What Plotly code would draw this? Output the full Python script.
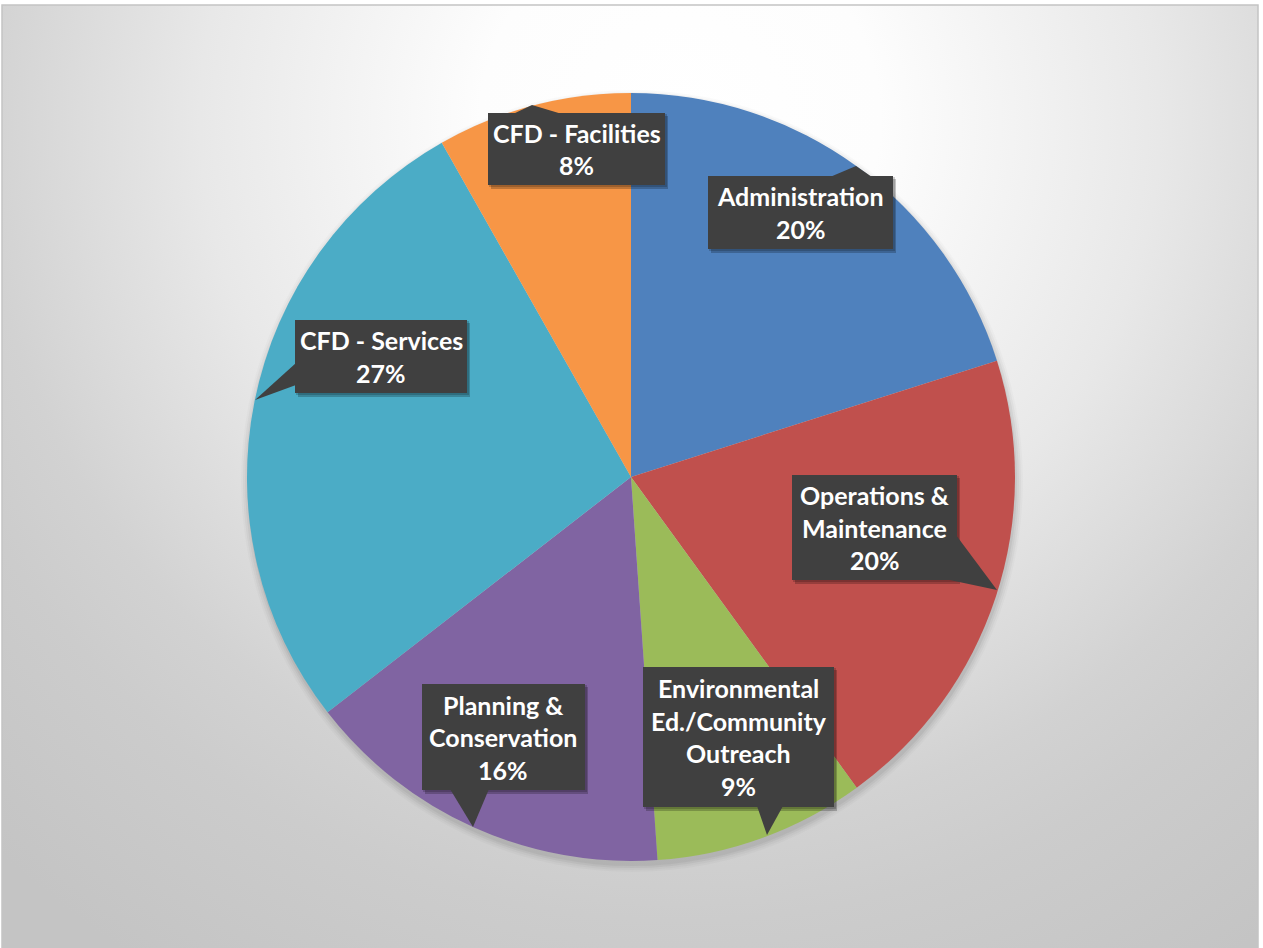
import plotly.graph_objects as go
import urllib.parse

# ---- data ----
categories = ["Administration", "Operations & Maintenance",
              "Environmental Ed./Community Outreach", "Planning & Conservation",
              "CFD - Services", "CFD - Facilities"]
values = [20.1, 19.9, 8.9, 15.6, 27.3, 8.2]
label_lines = [["Administration"], ["Operations &", "Maintenance"],
               ["Environmental", "Ed./Community", "Outreach"],
               ["Planning &", "Conservation"], ["CFD - Services"], ["CFD - Facilities"]]
colors = ["#4f81bd", "#c0504d", "#9bbb59", "#8064a2", "#4bacc6", "#f79646"]

# ---- layout constants (pixels) ----
W, H = 1263, 948
CX, CY, R = 631, 477, 384
boxes = {  # x0, y0, x1, y1
    "Administration": (708, 176, 893, 249),
    "Operations & Maintenance": (792, 475, 957, 580),
    "Environmental Ed./Community Outreach": (643, 667, 834, 807),
    "Planning & Conservation": (422, 684, 585, 790),
    "CFD - Services": (295, 320, 467, 393),
    "CFD - Facilities": (488, 113, 665, 185),
}
tails = {
    "Administration": [(830, 177), (856, 166), (872, 177)],
    "Operations & Maintenance": [(956, 535), (997, 590), (945, 579)],
    "Environmental Ed./Community Outreach": [(757, 806), (767, 835), (783, 806)],
    "Planning & Conservation": [(450, 789), (473, 827), (489, 789)],
    "CFD - Services": [(296, 363), (255, 400), (296, 385)],
    "CFD - Facilities": [(513, 114), (532, 105), (562, 114)],
}
LINE_H = 32.5
FONT = dict(family="Lato, 'Open Sans', sans-serif", size=25, color="white")


def px(x):
    return x / W


def py(y):
    return 1 - y / H


fig = go.Figure()
fig.add_trace(go.Pie(
    labels=categories, values=values, sort=False, direction="clockwise",
    rotation=0, marker=dict(colors=colors, line=dict(width=0)),
    textinfo="none", hoverinfo="label+percent", showlegend=False,
    domain=dict(x=[px(CX - R), px(CX + R)], y=[py(CY + R), py(CY - R)]),
))

svg = (
    "<svg xmlns='http://www.w3.org/2000/svg' width='1263' height='948'>"
    "<defs><radialGradient id='g' gradientUnits='userSpaceOnUse' cx='680' cy='120' r='1000'>"
    "<stop offset='0' stop-color='#ffffff'/>"
    "<stop offset='0.2' stop-color='#fdfdfd'/>"
    "<stop offset='0.48' stop-color='#e8e8e8'/>"
    "<stop offset='0.64' stop-color='#d8d8d8'/>"
    "<stop offset='0.70' stop-color='#d2d2d2'/>"
    "<stop offset='0.8' stop-color='#cccccc'/>"
    "<stop offset='1' stop-color='#c4c4c4'/>"
    "</radialGradient></defs>"
    "<rect x='0' y='0' width='1263' height='948' fill='#ffffff'/>"
    "<rect x='2' y='5' width='1256' height='943' fill='url(#g)'/>"
    "</svg>"
)
src = "data:image/svg+xml;charset=utf-8," + urllib.parse.quote(svg)

shapes = []
# frame border
shapes.append(dict(type="rect", xref="paper", yref="paper", x0=px(2), y0=py(960), x1=px(1258), y1=py(5),
                   line=dict(color="#c4c4c4", width=1.5), fillcolor="rgba(0,0,0,0)", layer="below"))
# soft pie shadow
for i, a in enumerate([0.05, 0.04, 0.03, 0.02]):
    rr = R + 1 + i * 2
    shapes.append(dict(type="circle", xref="paper", yref="paper",
                       x0=px(CX + 1 - rr), x1=px(CX + 1 + rr), y0=py(CY + 4 + rr), y1=py(CY + 4 - rr),
                       line=dict(width=0), fillcolor=f"rgba(0,0,0,{a})", layer="below"))

annotations = []
for cat, val, lines in zip(categories, values, label_lines):
    x0, y0, x1, y1 = boxes[cat]
    # shadow
    shapes.append(dict(type="rect", xref="paper", yref="paper", x0=px(x0 + 3), x1=px(x1 + 3),
                       y0=py(y1 + 4), y1=py(y0 + 3), line=dict(width=0),
                       fillcolor="rgba(0,0,0,0.22)", layer="above"))
    shapes.append(dict(type="rect", xref="paper", yref="paper", x0=px(x0 + 1), x1=px(x1 + 2),
                       y0=py(y1 + 2), y1=py(y0 + 1), line=dict(width=0),
                       fillcolor="rgba(0,0,0,0.18)", layer="above"))
    t = tails[cat]
    path = "M " + " L ".join(f"{px(a):.5f},{py(b):.5f}" for a, b in t) + " Z"
    shapes.append(dict(type="path", xref="paper", yref="paper", path=path,
                       line=dict(width=0), fillcolor="#404040", layer="above"))
    shapes.append(dict(type="rect", xref="paper", yref="paper", x0=px(x0), x1=px(x1),
                       y0=py(y1), y1=py(y0), line=dict(width=0), fillcolor="#404040", layer="above"))
    all_lines = lines + [f"{round(val)}%"]
    n = len(all_lines)
    cxb, cyb = (x0 + x1) / 2, (y0 + y1) / 2
    for k, txt in enumerate(all_lines):
        ly = cyb + (k - (n - 1) / 2) * LINE_H
        annotations.append(dict(x=px(cxb), y=py(ly), xref="paper", yref="paper",
                                text=f"<b>{txt}</b>", showarrow=False, font=FONT,
                                xanchor="center", yanchor="middle"))

fig.update_layout(
    width=W, height=H, margin=dict(l=0, r=0, t=0, b=0),
    paper_bgcolor="white", plot_bgcolor="white",
    images=[dict(source=src, xref="paper", yref="paper", x=0, y=1, sizex=1, sizey=1,
                 sizing="stretch", xanchor="left", yanchor="top", layer="below")],
    shapes=shapes, annotations=annotations,
)
fig.write_html("out.html")
